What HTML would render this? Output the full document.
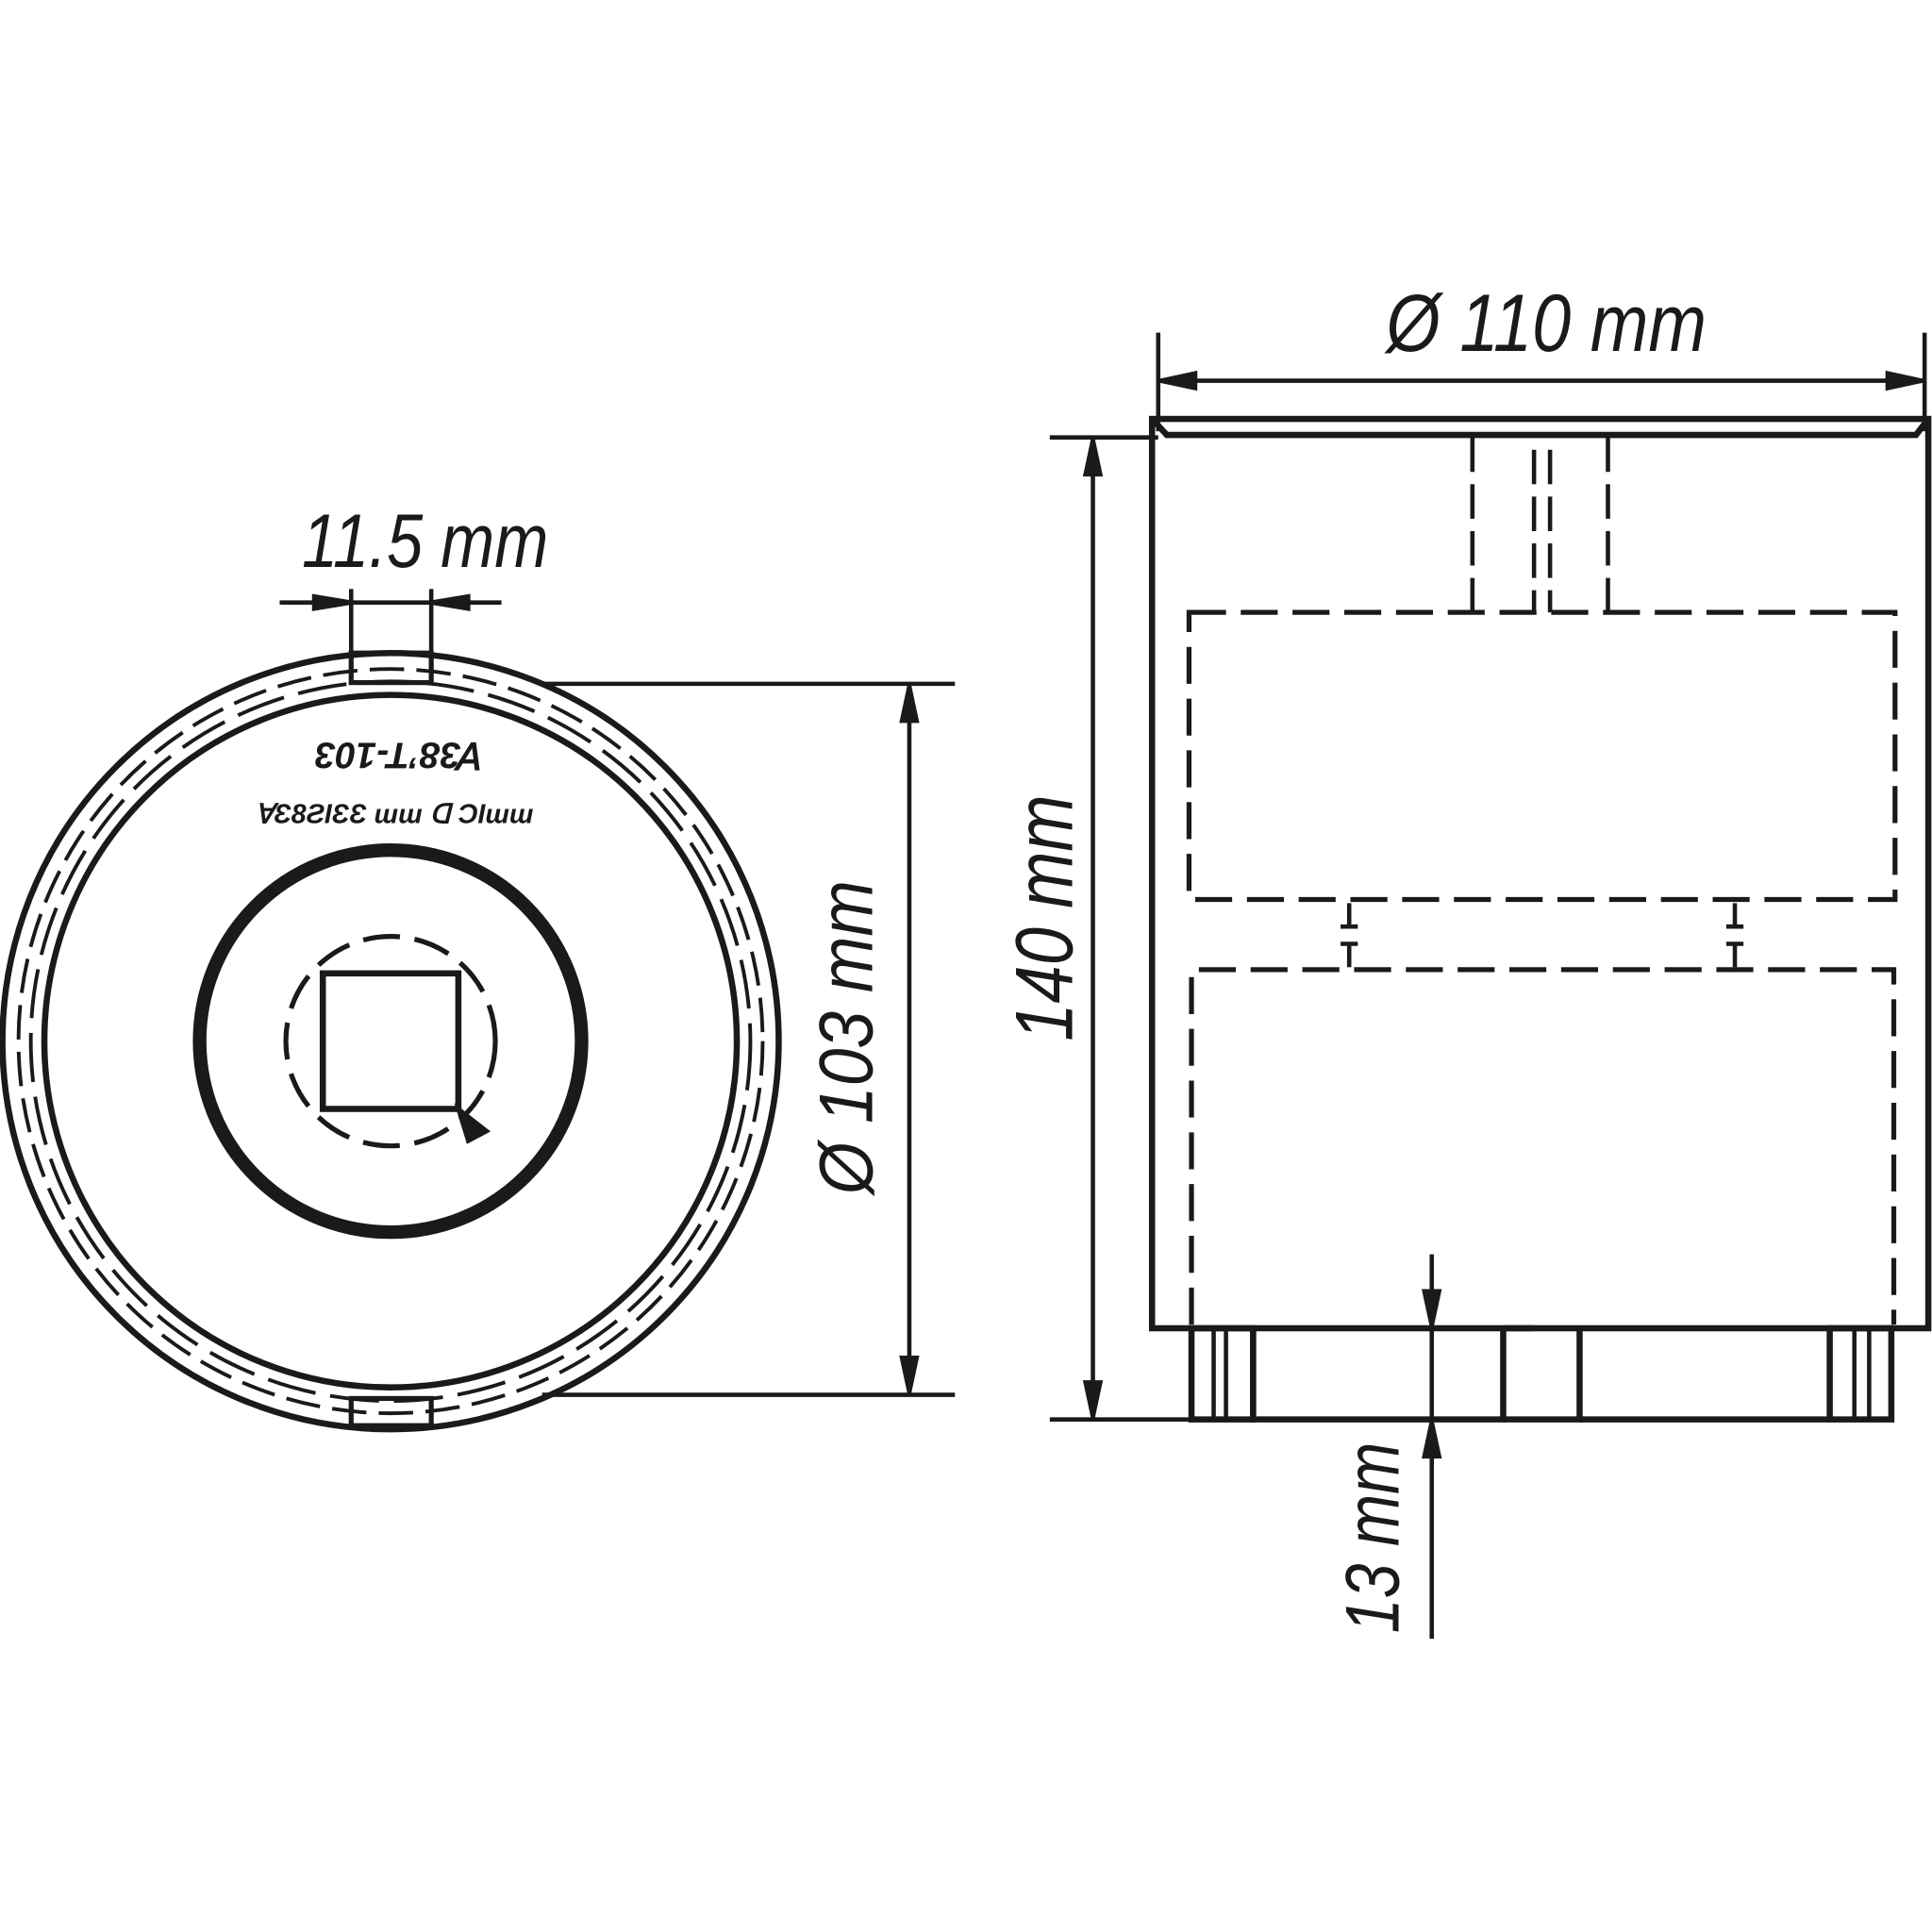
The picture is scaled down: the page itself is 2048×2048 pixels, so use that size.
<!DOCTYPE html>
<html><head><meta charset="utf-8"><style>
html,body{margin:0;padding:0;background:#fff}
svg{display:block}
text{font-family:"Liberation Sans",sans-serif;font-style:italic;fill:#1a1a1a}
</style></head><body>
<svg width="2048" height="2048" viewBox="0 0 1568 1568" xmlns="http://www.w3.org/2000/svg">
<g fill="none" stroke="#1a1a1a" stroke-width="3.5">
<circle cx="317" cy="845" r="315" stroke-width="5"/>
<circle cx="317" cy="845" r="281" stroke-width="5"/>
<circle cx="317" cy="845" r="302" stroke-dasharray="28 10" stroke-width="3"/>
<circle cx="317" cy="845" r="292" stroke-dasharray="40 12" stroke-width="3"/>
<rect x="285" y="530" width="65" height="24" stroke-width="4"/>
<rect x="285" y="1135" width="65" height="22" stroke-width="4"/>
<circle cx="317" cy="845" r="155" stroke-width="11"/>
<circle cx="317" cy="845" r="85" stroke-dasharray="30 12" stroke-width="4"/>
<rect x="262" y="790" width="110" height="110" stroke-width="5"/>
<path d="M372 900 L395 918 L380 926 Z" fill="#1a1a1a"/>
<line x1="285" y1="478" x2="285" y2="530"/>
<line x1="350" y1="478" x2="350" y2="530"/>
<line x1="227" y1="489" x2="407" y2="489"/>
<path d="M285 489 L255 484 L255 494 Z M350 489 L380 484 L380 494 Z" fill="#1a1a1a"/>
<line x1="440" y1="555" x2="775" y2="555"/>
<line x1="440" y1="1132" x2="775" y2="1132"/>
<line x1="738" y1="555" x2="738" y2="1132"/>
<path d="M738 557 L732 585 L744 585 Z M738 1130 L732 1102 L744 1102 Z" fill="#1a1a1a"/>
<rect x="935" y="340" width="630" height="738" stroke-width="5"/>
<path d="M935 340 L947 353 L1555 353 L1565 340" stroke-width="5"/>
<line x1="1195" y1="355" x2="1195" y2="497" stroke-dasharray="28 10"/>
<line x1="1305" y1="355" x2="1305" y2="497" stroke-dasharray="28 10"/>
<line x1="1245" y1="365" x2="1245" y2="497" stroke-dasharray="28 10"/>
<line x1="1258" y1="365" x2="1258" y2="497" stroke-dasharray="28 10"/>
<rect x="965" y="497" width="573" height="233" stroke-dasharray="30 12" stroke-width="4"/>
<path d="M967 1075 L967 787 L1537 787 L1537 1075" stroke-dasharray="30 12" stroke-width="4"/>
<line x1="1095" y1="733" x2="1095" y2="752"/><line x1="1088" y1="752" x2="1102" y2="752"/>
<line x1="1095" y1="766" x2="1095" y2="785"/><line x1="1088" y1="766" x2="1102" y2="766"/>
<line x1="1408" y1="733" x2="1408" y2="752"/><line x1="1401" y1="752" x2="1415" y2="752"/>
<line x1="1408" y1="766" x2="1408" y2="785"/><line x1="1401" y1="766" x2="1415" y2="766"/>
<rect x="967" y="1078" width="50" height="74" stroke-width="5"/>
<line x1="985" y1="1078" x2="985" y2="1152"/><line x1="995" y1="1078" x2="995" y2="1152"/>
<rect x="1485" y="1078" width="50" height="74" stroke-width="5"/>
<line x1="1505" y1="1078" x2="1505" y2="1152"/><line x1="1517" y1="1078" x2="1517" y2="1152"/>
<path d="M1017 1078 L1017 1152 L1220 1152 L1220 1078" stroke-width="5"/>
<path d="M1220 1152 L1282 1152 L1282 1078 M1220 1078 L1245 1078" stroke-width="5"/>
<path d="M1282 1152 L1485 1152" stroke-width="5"/>
<line x1="940" y1="270" x2="940" y2="350"/>
<line x1="1562" y1="270" x2="1562" y2="350"/>
<line x1="940" y1="309" x2="1562" y2="309"/>
<path d="M942 309 L970 303 L970 315 Z M1560 309 L1532 303 L1532 315 Z" fill="#1a1a1a"/>
<line x1="852" y1="355" x2="940" y2="355"/>
<line x1="852" y1="1152" x2="967" y2="1152"/>
<line x1="887" y1="355" x2="887" y2="1152"/>
<path d="M887 357 L881 385 L893 385 Z M887 1150 L881 1122 L893 1122 Z" fill="#1a1a1a"/>
<line x1="1162" y1="1018" x2="1162" y2="1330"/>
<path d="M1162 1076 L1156 1048 L1168 1048 Z M1162 1154 L1156 1182 L1168 1182 Z" fill="#1a1a1a"/>
</g>
<g>
<text x="345" y="460" font-size="62" text-anchor="middle" textLength="200" lengthAdjust="spacingAndGlyphs">11.5 mm</text>
<text x="1255" y="285" font-size="66" text-anchor="middle" textLength="260" lengthAdjust="spacingAndGlyphs">Ø 110 mm</text>
<text transform="translate(708,842) rotate(-90)" font-size="62" text-anchor="middle" textLength="255" lengthAdjust="spacingAndGlyphs">Ø 103 mm</text>
<text transform="translate(870,745) rotate(-90)" font-size="66" text-anchor="middle" textLength="200" lengthAdjust="spacingAndGlyphs">140 mm</text>
<text transform="translate(1135,1248) rotate(-90)" font-size="62" text-anchor="middle" textLength="155" lengthAdjust="spacingAndGlyphs">13 mm</text>
<text x="325" y="627" font-size="30" font-weight="bold" font-style="normal" text-anchor="middle" transform="rotate(180 325 615)">Ɐ38ʼT-103</text>
<text x="320" y="668" font-size="22" font-weight="bold" font-style="normal" text-anchor="middle">ⱯƐ8ƧIƐƐ  ɯɯ ᗡ ƆƖɯɯ</text>
</g>
</svg>
</body></html>
